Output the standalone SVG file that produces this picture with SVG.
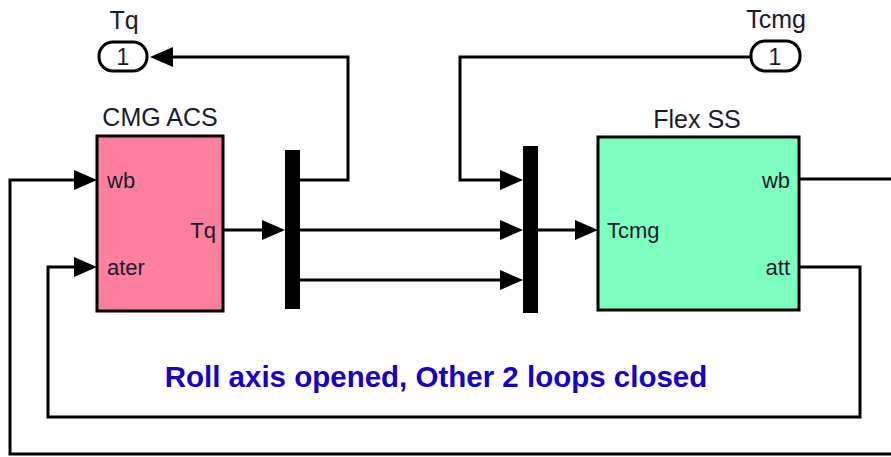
<svg xmlns="http://www.w3.org/2000/svg" width="891" height="457" viewBox="0 0 891 457">
<style>
.ln{fill:none;stroke:#000;stroke-width:3;stroke-linejoin:miter}
.blk{stroke:#000;stroke-width:3}
.mux{fill:#000}
.port{fill:#fff;stroke:#000;stroke-width:3}
.t{font-family:"Liberation Sans",Arial,sans-serif;fill:#1a1a2e}
.name{font-size:25px}
.pl{font-size:22px}
.num{font-size:23px}
.note{font-family:"Liberation Sans",Arial,sans-serif;font-size:29.5px;font-weight:bold;fill:#1500c8}
</style>
<defs>
<marker id="ah" markerUnits="userSpaceOnUse" markerWidth="23" markerHeight="22" refX="12" refY="11" orient="auto" viewBox="0 0 23 22">
<path d="M0,1 L23,11 L0,21 Z" fill="#000"/>
</marker>
</defs>
<rect width="891" height="457" fill="#fff"/>

<g id="connectors">
<path class="ln" d="M300,180 H348 V57 H161" marker-end="url(#ah)"/>
<path class="ln" d="M750,57 H460 V180 H512" marker-end="url(#ah)"/>
<path class="ln" d="M224,230 H274" marker-end="url(#ah)"/>
<path class="ln" d="M300,230 H512" marker-end="url(#ah)"/>
<path class="ln" d="M300,280 H512" marker-end="url(#ah)"/>
<path class="ln" d="M538,230 H587" marker-end="url(#ah)"/>
<path class="ln" d="M800,179 H900 V454 H10 V180 H86" marker-end="url(#ah)"/>
<path class="ln" d="M800,267 H860 V417 H48 V267 H86" marker-end="url(#ah)"/>
</g>

<g id="out_Tq">
<rect class="port" x="99" y="42" width="48" height="29" rx="14" ry="14"/>
<text class="t num" x="123" y="65" text-anchor="middle">1</text>
<text class="t name" x="124" y="29" text-anchor="middle">Tq</text>
</g>

<g id="in_Tcmg">
<rect class="port" x="751" y="41" width="49" height="30" rx="14" ry="14"/>
<text class="t num" x="775" y="65" text-anchor="middle">1</text>
<text class="t name" x="776" y="28" text-anchor="middle">Tcmg</text>
</g>

<g id="cmg_acs">
<rect class="blk" x="97" y="136" width="126" height="175" fill="#ff7f9f"/>
<text class="t name" x="160" y="126" text-anchor="middle">CMG ACS</text>
<text class="t pl" x="107" y="188">wb</text>
<text class="t pl" x="107" y="275">ater</text>
<text class="t pl" x="216" y="238" text-anchor="end">Tq</text>
</g>

<g id="mux1">
<rect class="mux" x="285" y="150" width="15" height="159"/>
</g>

<g id="mux2">
<rect class="mux" x="523" y="146" width="15" height="167"/>
</g>

<g id="flex_ss">
<rect class="blk" x="598" y="137" width="201" height="173" fill="#7fffbf"/>
<text class="t name" x="697" y="128" text-anchor="middle">Flex SS</text>
<text class="t pl" x="607" y="238">Tcmg</text>
<text class="t pl" x="790" y="188" text-anchor="end">wb</text>
<text class="t pl" x="790" y="275" text-anchor="end">att</text>
</g>

<g id="note">
<text class="note" x="436" y="387" text-anchor="middle">Roll axis opened, Other 2 loops closed</text>
</g>
</svg>
